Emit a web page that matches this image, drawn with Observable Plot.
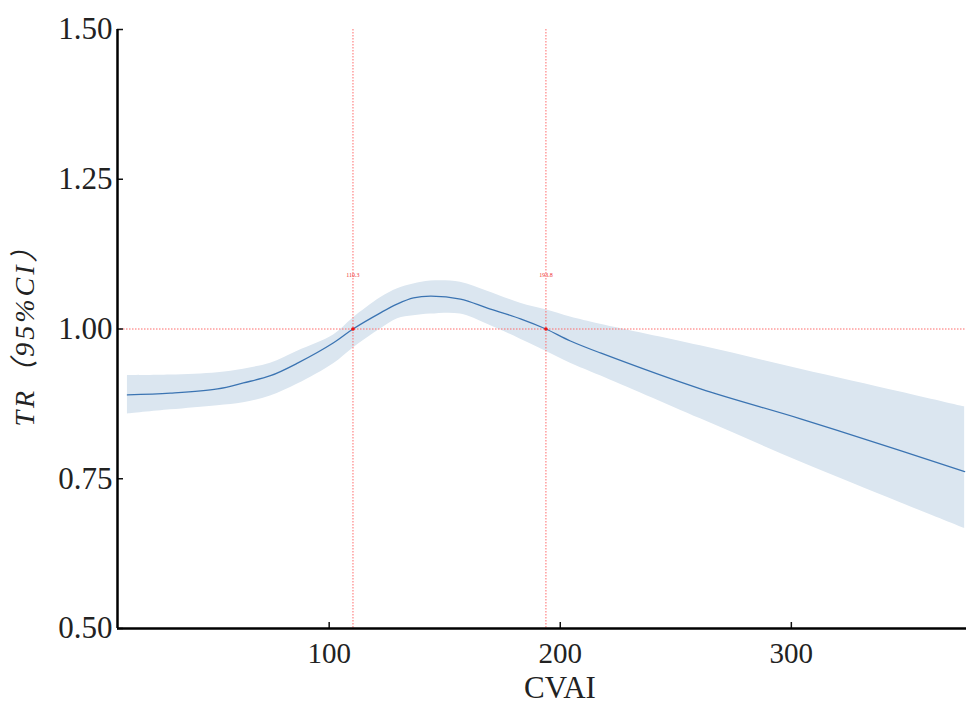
<!DOCTYPE html>
<html>
<head>
<meta charset="utf-8">
<script src="https://cdn.jsdelivr.net/npm/d3@7"></script>
<script src="https://cdn.jsdelivr.net/npm/@observablehq/plot@0.6"></script>
<style>
  html, body { margin: 0; padding: 0; background: #fff; }
  .ylab text { letter-spacing: 3px; }
</style>
</head>
<body>
<div id="chart"></div>
<script>
// Data
const cvai  = [12.7, 31.3, 51.7, 62.9, 74.6, 86.3, 101.9, 110.3, 122.2, 129.6, 136.5, 143.9, 156.8, 168.5, 182.8, 193.8, 204.4, 217.4, 260.7, 304.0, 347.2, 375.0];
const tr    = [0.890, 0.893, 0.900, 0.910, 0.922, 0.943, 0.977, 1.000, 1.027, 1.042, 1.052, 1.055, 1.050, 1.035, 1.017, 1.000, 0.980, 0.960, 0.900, 0.850, 0.797, 0.762];
const upper = [0.922, 0.923, 0.927, 0.933, 0.943, 0.963, 0.990, 1.018, 1.052, 1.067, 1.075, 1.080, 1.078, 1.063, 1.043, 1.032, 1.020, 1.008, 0.972, 0.933, 0.895, 0.870];
const lower = [0.858, 0.865, 0.872, 0.877, 0.888, 0.908, 0.942, 0.968, 1.000, 1.017, 1.022, 1.025, 1.025, 1.008, 0.983, 0.963, 0.943, 0.922, 0.850, 0.778, 0.710, 0.667];
const cutPoints = [110.3, 193.8];
const cutLabels = ["110.3", "193.8"];
const refY = 1.0;
const xDomain = [8.4, 375.8];
const yDomain = [0.5, 1.5];
const xTicks = [100, 200, 300];
const yTicks = [0.5, 0.75, 1.0, 1.25, 1.5];
const xLabel = "CVAI";
const yLabel = "TR（95%CI）";
const cutLabelY = 1.09;

const rows = cvai.map((x, i) => ({x, y: tr[i], lo: lower[i], hi: upper[i]}));
const cuts = cutPoints.map((x, i) => ({x, y: refY, label: cutLabels[i]}));

const chart = Plot.plot({
  width: 980,
  height: 707,
  marginLeft: 117,
  marginRight: 14,
  marginTop: 29,
  marginBottom: 79,
  style: {fontFamily: "'Liberation Serif', 'Times New Roman', serif", background: "#fff", color: "#222"},
  x: {domain: xDomain},
  y: {domain: yDomain},
  marks: [
    Plot.areaY(rows, {x: "x", y1: "lo", y2: "hi", fill: "#dbe6f0", curve: "catmull-rom"}),
    Plot.ruleX(cuts, {x: "x", stroke: "#ff6a6a", strokeWidth: 1, strokeDasharray: "1.5,1.5"}),
    Plot.ruleY([refY], {stroke: "#ff6a6a", strokeWidth: 1, strokeDasharray: "1.5,1.5"}),
    Plot.lineY(rows, {x: "x", y: "y", stroke: "#3b74b2", strokeWidth: 1.3, curve: "catmull-rom"}),
    Plot.dot(cuts, {x: "x", y: "y", r: 1.8, fill: "#ee1111", stroke: null}),
    Plot.text(cuts, {x: "x", y: () => cutLabelY, text: "label", fill: "#ee3333", fontSize: 6}),
    Plot.axisX(xTicks, {tickSize: -6, tickPadding: 20, fontSize: 29, label: null, stroke: "#111", strokeWidth: 1.5, fill: "#222"}),
    Plot.axisY(yTicks, {tickSize: -6, tickPadding: 11, fontSize: 31, label: null, tickFormat: d3.format(".2f"), stroke: "#111", strokeWidth: 1.5, fill: "#222"}),
    Plot.ruleX([xDomain[0]], {stroke: "#000", strokeWidth: 2.5}),
    Plot.ruleY([yDomain[0]], {stroke: "#000", strokeWidth: 2.5}),
    Plot.text([xLabel], {frameAnchor: "bottom", dx: 18, dy: 60, lineAnchor: "middle", fontSize: 31, fill: "#222"}),
    Plot.text([yLabel], {className: "ylab", frameAnchor: "left", textAnchor: "middle", dx: -92, rotate: -90, lineAnchor: "middle", fontSize: 28, fontStyle: "italic", fill: "#222", fontFamily: "'Liberation Serif', 'Noto Sans CJK SC', serif"})
  ]
});
document.getElementById("chart").appendChild(chart);
</script>
</body>
</html>
